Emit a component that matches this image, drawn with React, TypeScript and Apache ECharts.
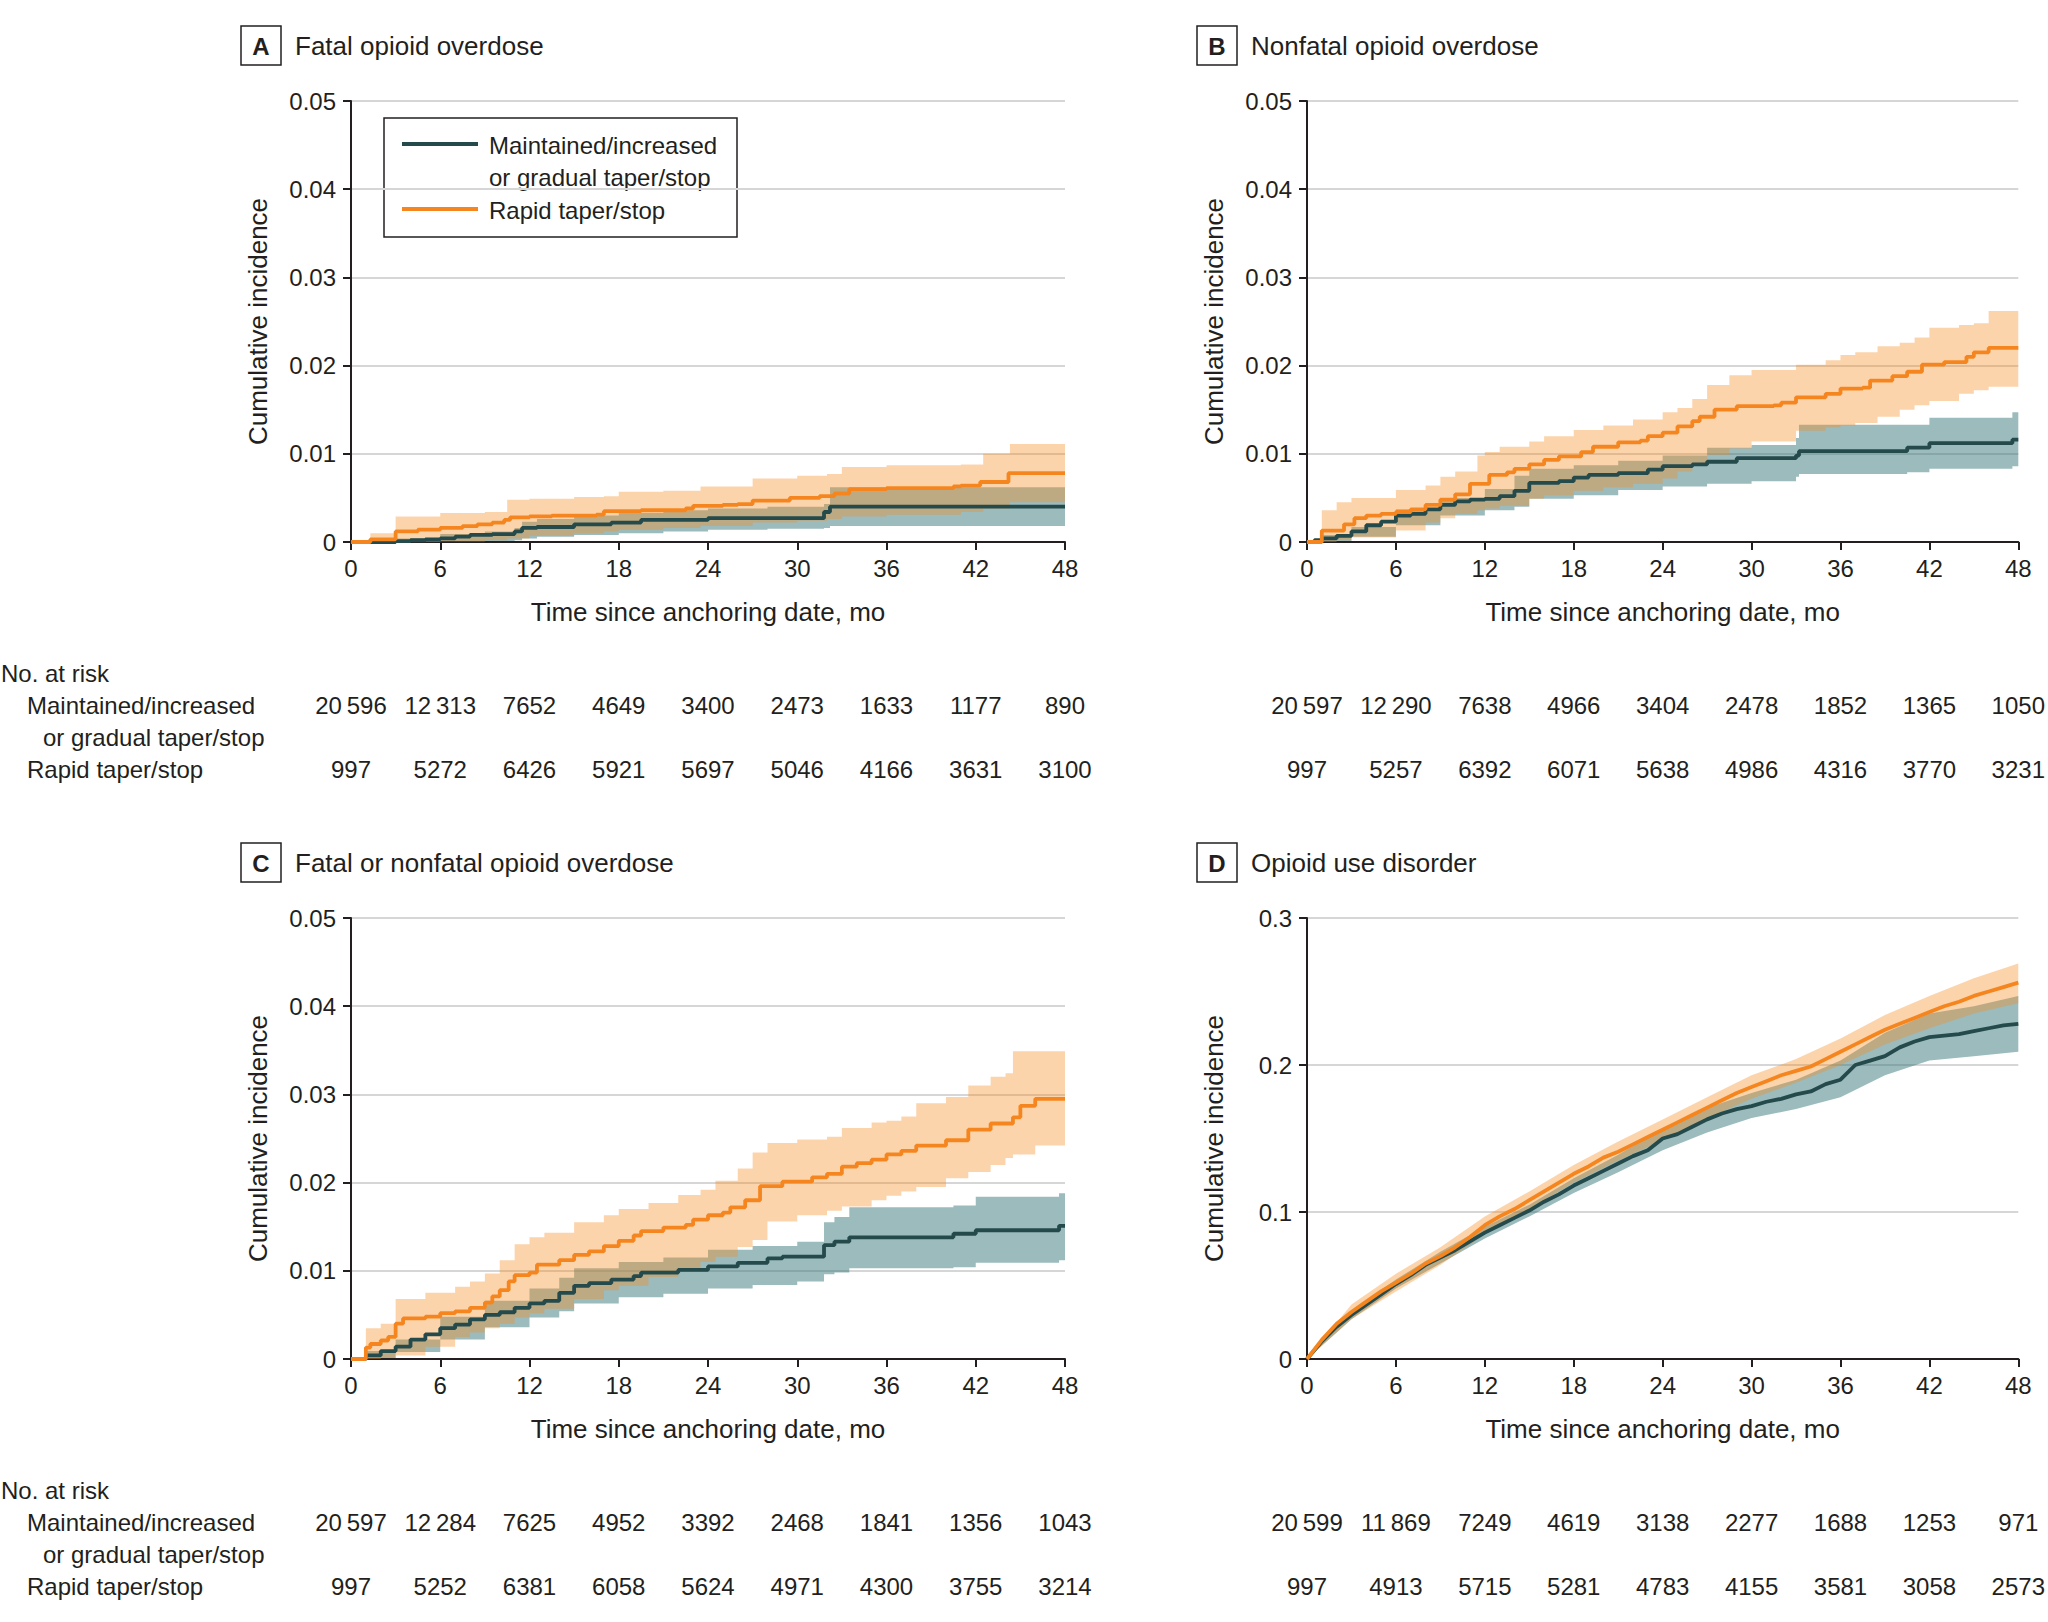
import React, { useEffect, useRef } from "react";
import * as echarts from "echarts";

const FONT = '"Liberation Sans", Arial, sans-serif';
const INK = "#231f20";
const TEAL = "#244a4c";
const ORANGE = "#f5861f";
const TEAL_BAND = "rgba(45,112,116,0.48)";
const ORANGE_BAND = "rgba(248,142,38,0.38)";
const GRID_LINE = "#d6d6d6";
const LINE_W = 3.8;

const riskMonths = [0, 6, 12, 18, 24, 30, 36, 42, 48];
const riskA_maint = [20596, 12313, 7652, 4649, 3400, 2473, 1633, 1177, 890];
const riskA_rapid = [997, 5272, 6426, 5921, 5697, 5046, 4166, 3631, 3100];
const riskB_maint = [20597, 12290, 7638, 4966, 3404, 2478, 1852, 1365, 1050];
const riskB_rapid = [997, 5257, 6392, 6071, 5638, 4986, 4316, 3770, 3231];
const riskC_maint = [20597, 12284, 7625, 4952, 3392, 2468, 1841, 1356, 1043];
const riskC_rapid = [997, 5252, 6381, 6058, 5624, 4971, 4300, 3755, 3214];
const riskD_maint = [20599, 11869, 7249, 4619, 3138, 2277, 1688, 1253, 971];
const riskD_rapid = [997, 4913, 5715, 5281, 4783, 4155, 3581, 3058, 2573];

// Panel A: fatal opioid overdose  [month, cumulative incidence]
const A_maint = [[0,0],[3,0.0001],[4,0.0002],[5,0.0003],[6,0.0004],[7,0.0006],[8,0.0008],[9.5,0.0009],[11,0.0012],[11.5,0.0016],[12.5,0.0017],[15,0.002],[17.5,0.0022],[19.5,0.0025],[24,0.0027],[31.8,0.0034],[32.2,0.004],[48,0.004]];
const A_rapid = [[0,0],[1.3,0.0003],[3,0.0012],[4.5,0.0014],[6,0.0016],[7.5,0.0018],[8.5,0.002],[9.5,0.0022],[10.3,0.0025],[10.7,0.0028],[12,0.0029],[13.5,0.003],[16.5,0.0031],[17,0.0035],[19.5,0.0036],[22.5,0.0038],[23,0.0041],[25,0.0042],[26,0.0043],[27,0.0047],[29.5,0.005],[31.5,0.0052],[32.5,0.0055],[33.5,0.006],[36,0.0061],[40.5,0.0063],[41,0.0064],[42.3,0.0068],[44.2,0.0078],[48,0.0078]];
// [month, lower, upper]
const A_maint_ci = [[0,0,0],[3,0,0.0004],[6,0,0.0009],[9,0.0001,0.0012],[11,0.0002,0.0016],[11.5,0.0004,0.0023],[12.5,0.0006,0.0026],[15,0.0008,0.003],[18,0.001,0.0033],[21,0.0012,0.0036],[24,0.0014,0.0038],[28,0.0015,0.004],[31.8,0.0016,0.0043],[32.2,0.0018,0.0062],[48,0.0018,0.0062]];
const A_rapid_ci = [[0,0,0.0002],[1.3,0,0.001],[3,0,0.0029],[6,0.0001,0.0033],[9,0.0002,0.0034],[10.5,0.0004,0.0048],[12,0.0007,0.0049],[15,0.001,0.0051],[17,0.0012,0.0052],[18,0.0014,0.0057],[21,0.0016,0.0058],[23.5,0.0018,0.0063],[27,0.0022,0.0072],[30,0.0024,0.0075],[32,0.0026,0.0077],[33,0.0029,0.0085],[36,0.0031,0.0087],[41,0.0034,0.0088],[42.5,0.0038,0.01],[44.3,0.0045,0.0111],[48,0.0046,0.0111]];

// Panel B: nonfatal opioid overdose
const B_maint = [[0,0],[0.5,0.0002],[1,0.0004],[2,0.0007],[3,0.0012],[4,0.0019],[5,0.0023],[6,0.003],[7,0.0032],[8,0.0037],[9,0.0042],[10,0.0046],[11,0.0048],[12,0.0049],[13,0.0052],[14,0.0058],[15,0.0067],[17,0.0069],[18,0.0073],[19,0.0076],[21,0.0078],[23,0.0082],[24,0.0086],[26,0.0088],[27,0.0091],[29,0.0095],[33,0.0098],[33.2,0.0103],[40.5,0.0107],[42,0.0112],[47.6,0.0116],[48,0.0116]];
const B_rapid = [[0,0],[1,0.0013],[2.5,0.002],[3.2,0.0027],[4,0.003],[5,0.0032],[6,0.0034],[7,0.0037],[8,0.0042],[9,0.0048],[10,0.0054],[11,0.0066],[12.3,0.0076],[13.5,0.0079],[14,0.0083],[15,0.0088],[16,0.0093],[17,0.0097],[18.5,0.0102],[19.3,0.0108],[21,0.0113],[22.5,0.0115],[23,0.012],[24,0.0124],[25,0.0131],[26,0.0137],[26.5,0.0142],[27.5,0.015],[29,0.0154],[31.5,0.0155],[32,0.0158],[33,0.0164],[35,0.0168],[36,0.0174],[37.5,0.0175],[38,0.0183],[39.5,0.0188],[40.5,0.0193],[41.5,0.0201],[43,0.0204],[44.5,0.021],[45,0.0215],[46,0.022],[48,0.022]];
const B_maint_ci = [[0,0,0],[1,0.0001,0.0008],[3,0.0006,0.0017],[6,0.0019,0.0037],[9,0.003,0.005],[12,0.0036,0.006],[14,0.004,0.0075],[15,0.0049,0.0083],[18,0.0053,0.0087],[21,0.0059,0.0092],[24,0.0063,0.0098],[27,0.0066,0.0107],[30,0.0069,0.011],[33,0.0074,0.0118],[33.2,0.0077,0.0133],[40.5,0.0079,0.0133],[42,0.0083,0.0141],[47.6,0.0086,0.0147],[48,0.0086,0.0147]];
const B_rapid_ci = [[0,0,0],[1,0,0.0036],[2,0.0002,0.0045],[3,0.0005,0.005],[6,0.0013,0.0059],[8,0.0022,0.0064],[9,0.0027,0.0074],[10,0.0032,0.008],[11.5,0.0036,0.0098],[12,0.0038,0.0102],[13,0.0041,0.0108],[15,0.0049,0.0114],[16,0.0053,0.012],[18,0.0058,0.0127],[20,0.0062,0.0132],[22,0.0066,0.0139],[24,0.0072,0.0147],[25,0.008,0.0152],[26,0.0088,0.0162],[27,0.0099,0.0178],[28.5,0.0106,0.0189],[30,0.0114,0.0195],[33,0.0126,0.0201],[35,0.013,0.0206],[36,0.0132,0.0212],[37,0.0135,0.0215],[38.5,0.0142,0.0222],[40,0.015,0.0226],[41,0.0155,0.0232],[42,0.016,0.0243],[44,0.0168,0.0246],[45,0.0172,0.0248],[46,0.0176,0.0262],[48,0.0177,0.0264]];

// Panel C: fatal or nonfatal opioid overdose
const C_maint = [[0,0],[1,0.0004],[2,0.0009],[3,0.0014],[4,0.0022],[5,0.0028],[6,0.0035],[7,0.0039],[8,0.0045],[9,0.005],[10,0.0053],[11,0.0058],[12,0.0063],[13,0.0066],[14,0.0075],[15,0.0083],[16,0.0086],[17.5,0.009],[19,0.0094],[19.5,0.0098],[22,0.0101],[24,0.0105],[26,0.0109],[28,0.0114],[29,0.0116],[31.8,0.0129],[32.5,0.0133],[33.5,0.0138],[40.5,0.0142],[42,0.0146],[47.6,0.0151],[48,0.0151]];
const C_rapid = [[0,0],[1,0.0013],[1.3,0.0017],[2,0.0021],[2.5,0.0025],[3,0.004],[3.5,0.0046],[5,0.0048],[6,0.0052],[7,0.0054],[8,0.0058],[9,0.0064],[9.5,0.0071],[10,0.0078],[10.6,0.0088],[11,0.0095],[12,0.0098],[12.5,0.0107],[14,0.0112],[15,0.0118],[16,0.0122],[17,0.0128],[18,0.0134],[19,0.014],[19.5,0.0145],[21,0.0149],[22.5,0.0152],[23,0.0158],[24,0.0163],[25,0.0166],[25.5,0.0172],[26.5,0.018],[27.5,0.0196],[29,0.0201],[31,0.0206],[32,0.021],[33,0.0218],[34,0.0222],[35,0.0226],[36,0.0232],[37,0.0236],[38,0.0242],[40,0.0248],[41.5,0.026],[43,0.0267],[44.5,0.0274],[45,0.0287],[46,0.0295],[48,0.0295]];
const C_maint_ci = [[0,0,0],[1,0.0001,0.0009],[3,0.0008,0.0022],[6,0.0022,0.0048],[9,0.0036,0.0066],[12,0.0047,0.008],[14,0.0054,0.0092],[15,0.0063,0.0103],[18,0.007,0.011],[21,0.0074,0.0115],[24,0.008,0.0124],[27,0.0084,0.0128],[30,0.0088,0.0133],[31.8,0.0096,0.0155],[32.5,0.0098,0.0161],[33.5,0.0103,0.0172],[40.5,0.0104,0.0174],[42,0.0109,0.0184],[47.6,0.0112,0.0188],[48,0.0112,0.0188]];
const C_rapid_ci = [[0,0,0],[1,0,0.0035],[2,0.0001,0.004],[3,0.0004,0.0068],[5,0.0014,0.0075],[7,0.0025,0.0082],[8,0.003,0.0088],[9,0.0035,0.0097],[10,0.004,0.0112],[11,0.0047,0.013],[12,0.0052,0.0138],[13,0.0057,0.0143],[15,0.0068,0.0155],[17,0.0078,0.0163],[18,0.0083,0.017],[20,0.0093,0.0177],[22,0.0101,0.0186],[23.5,0.011,0.0192],[24.5,0.0116,0.0202],[26,0.0127,0.0216],[27,0.0135,0.0234],[28,0.0156,0.0245],[30,0.0163,0.0249],[32,0.0168,0.0252],[33,0.0173,0.0262],[35,0.018,0.0268],[36,0.0185,0.027],[37,0.019,0.0275],[38,0.0195,0.029],[40,0.0205,0.0297],[41.5,0.0212,0.031],[43,0.022,0.032],[44,0.0228,0.0324],[44.5,0.0232,0.0349],[46,0.0242,0.0349],[48,0.0242,0.0349]];

// Panel D: opioid use disorder (monthly readings)
const D_months = [0,1,2,3,4,5,6,7,8,9,10,11,12,13,14,15,16,17,18,19,20,21,22,23,24,25,26,27,28,29,30,31,32,33,34,35,36,37,38,39,40,41,42,43,44,45,46,47,48];
const D_maint = [0,0.012,0.022,0.03,0.037,0.044,0.051,0.057,0.064,0.069,0.074,0.08,0.086,0.091,0.096,0.101,0.107,0.112,0.118,0.123,0.128,0.133,0.138,0.142,0.15,0.153,0.158,0.163,0.167,0.17,0.172,0.175,0.177,0.18,0.182,0.187,0.19,0.2,0.203,0.206,0.212,0.216,0.219,0.22,0.221,0.223,0.225,0.227,0.228];
const D_rapid = [0,0.013,0.024,0.032,0.039,0.046,0.052,0.058,0.065,0.07,0.076,0.083,0.091,0.097,0.102,0.108,0.114,0.12,0.126,0.131,0.137,0.141,0.146,0.151,0.156,0.161,0.166,0.171,0.176,0.181,0.185,0.189,0.193,0.196,0.199,0.204,0.209,0.214,0.219,0.224,0.228,0.232,0.236,0.24,0.243,0.247,0.25,0.253,0.256];
const D_maint_ci = [[0,0,0],[3,0.027,0.033],[6,0.048,0.054],[9,0.065,0.073],[12,0.082,0.09],[15,0.097,0.105],[18,0.113,0.123],[21,0.127,0.139],[24,0.142,0.157],[27,0.154,0.171],[30,0.164,0.181],[33,0.17,0.19],[36,0.178,0.203],[39,0.193,0.222],[42,0.203,0.235],[45,0.206,0.24],[48,0.209,0.247]];
const D_rapid_ci = [[0,0,0],[3,0.027,0.037],[6,0.046,0.058],[9,0.064,0.076],[12,0.085,0.097],[15,0.102,0.114],[18,0.12,0.132],[21,0.135,0.148],[24,0.149,0.163],[27,0.164,0.178],[30,0.177,0.193],[33,0.188,0.204],[36,0.2,0.218],[39,0.214,0.234],[42,0.225,0.247],[45,0.235,0.259],[48,0.242,0.269]];

const LEGEND_MAINT = ["Maintained/increased", "or gradual taper/stop"];
const LEGEND_RAPID = "Rapid taper/stop";

type Panel = {
  letter: string;
  title: string;
  left: number;
  top: number;
  width: number;
  height: number;
  yMax: number;
  yInt: number;
  dec: number;
  maint: number[][];
  rapid: number[][];
  maintCi: number[][];
  rapidCi: number[][];
  step: boolean;
  riskMaint: number[];
  riskRapid: number[];
  rowOffset: number;
};

const TOP_ROW = 0;
const BOTTOM_ROW = 817;

const panels: Panel[] = [
  { letter: "A", title: "Fatal opioid overdose", left: 351, top: 101, width: 714, height: 441, yMax: 0.05, yInt: 0.01, dec: 2, maint: A_maint, rapid: A_rapid, maintCi: A_maint_ci, rapidCi: A_rapid_ci, step: true, riskMaint: riskA_maint, riskRapid: riskA_rapid, rowOffset: TOP_ROW },
  { letter: "B", title: "Nonfatal opioid overdose", left: 1307, top: 101, width: 712, height: 441, yMax: 0.05, yInt: 0.01, dec: 2, maint: B_maint, rapid: B_rapid, maintCi: B_maint_ci, rapidCi: B_rapid_ci, step: true, riskMaint: riskB_maint, riskRapid: riskB_rapid, rowOffset: TOP_ROW },
  { letter: "C", title: "Fatal or nonfatal opioid overdose", left: 351, top: 101 + BOTTOM_ROW, width: 714, height: 441, yMax: 0.05, yInt: 0.01, dec: 2, maint: C_maint, rapid: C_rapid, maintCi: C_maint_ci, rapidCi: C_rapid_ci, step: true, riskMaint: riskC_maint, riskRapid: riskC_rapid, rowOffset: BOTTOM_ROW },
  { letter: "D", title: "Opioid use disorder", left: 1307, top: 101 + BOTTOM_ROW, width: 712, height: 441, yMax: 0.3, yInt: 0.1, dec: 1, maint: D_months.map((t, i) => [t, D_maint[i]]), rapid: D_months.map((t, i) => [t, D_rapid[i]]), maintCi: D_maint_ci, rapidCi: D_rapid_ci, step: false, riskMaint: riskD_maint, riskRapid: riskD_rapid, rowOffset: BOTTOM_ROW },
];

const fmtRisk = (n: number) =>
  n >= 10000 ? `${Math.floor(n / 1000)}\u2009${String(n % 1000).padStart(3, "0")}` : String(n);

function bandRenderer(band: number[][], step: boolean, color: string) {
  return (params: any, api: any) => {
    if (params.dataIndex !== 0) return null;
    const up: number[][] = [];
    const lo: number[][] = [];
    for (let i = 0; i < band.length; i++) {
      const [t, l, h] = band[i];
      if (step && i > 0) {
        up.push(api.coord([t, band[i - 1][2]]));
        lo.push(api.coord([t, band[i - 1][1]]));
      }
      up.push(api.coord([t, h]));
      lo.push(api.coord([t, l]));
    }
    const points = up.concat(lo.reverse());
    return {
      type: "polygon",
      shape: { points },
      style: { fill: color, stroke: null },
      silent: true,
    };
  };
}

function buildOption() {
  const grids: any[] = [];
  const xAxes: any[] = [];
  const yAxes: any[] = [];
  const series: any[] = [];
  const graphics: any[] = [];

  panels.forEach((p, idx) => {
    const bottom = p.top + p.height;
    grids.push({ left: p.left, top: p.top, width: p.width, height: p.height, containLabel: false });

    xAxes.push({
      type: "value",
      gridIndex: idx,
      min: 0,
      max: 48,
      interval: 6,
      axisLine: { show: true, onZero: false, lineStyle: { color: INK, width: 2 } },
      axisTick: { show: true, length: 8, lineStyle: { color: INK, width: 2 } },
      axisLabel: { fontSize: 24, color: INK, fontFamily: FONT, margin: 14 },
      splitLine: { show: false },
      name: "Time since anchoring date, mo",
      nameLocation: "middle",
      nameGap: 57,
      nameTextStyle: { fontSize: 26, color: INK, fontFamily: FONT },
    });
    const rows = [
      { data: p.riskMaint, y: 705 + p.rowOffset },
      { data: p.riskRapid, y: 769 + p.rowOffset },
    ];
    rows.forEach((r) => {
      xAxes.push({
        type: "value",
        gridIndex: idx,
        min: 0,
        max: 48,
        interval: 6,
        position: "bottom",
        offset: r.y - bottom,
        axisLine: { show: false },
        axisTick: { show: false },
        splitLine: { show: false },
        axisLabel: {
          margin: 0,
          verticalAlign: "middle",
          fontSize: 24,
          color: INK,
          fontFamily: FONT,
          showMinLabel: true,
          showMaxLabel: true,
          formatter: (v: number) => {
            const k = riskMonths.indexOf(Math.round(v));
            return k >= 0 ? fmtRisk(r.data[k]) : "";
          },
        },
      });
    });

    yAxes.push({
      type: "value",
      gridIndex: idx,
      min: 0,
      max: p.yMax,
      interval: p.yInt,
      axisLine: { show: true, lineStyle: { color: INK, width: 2 } },
      axisTick: { show: true, length: 8, lineStyle: { color: INK, width: 2 } },
      axisLabel: {
        fontSize: 24,
        color: INK,
        fontFamily: FONT,
        margin: 15,
        formatter: (v: number) => (Math.abs(v) < 1e-9 ? "0" : v.toFixed(p.dec)),
      },
      splitLine: { show: true, lineStyle: { color: GRID_LINE, width: 2 } },
      name: "Cumulative incidence",
      nameLocation: "middle",
      nameGap: 80,
      nameTextStyle: { fontSize: 26, color: INK, fontFamily: FONT },
    });

    const xi = idx * 3;
    series.push({
      type: "custom",
      xAxisIndex: xi,
      yAxisIndex: idx,
      data: p.maintCi,
      encode: { x: 0, y: [1, 2] },
      renderItem: bandRenderer(p.maintCi, p.step, TEAL_BAND),
      clip: true,
      silent: true,
      z: 1,
    });
    series.push({
      type: "custom",
      xAxisIndex: xi,
      yAxisIndex: idx,
      data: p.rapidCi,
      encode: { x: 0, y: [1, 2] },
      renderItem: bandRenderer(p.rapidCi, p.step, ORANGE_BAND),
      clip: true,
      silent: true,
      z: 1,
    });
    series.push({
      type: "line",
      name: "Maintained/increased or gradual taper/stop",
      xAxisIndex: xi,
      yAxisIndex: idx,
      data: p.maint,
      step: p.step ? "end" : false,
      showSymbol: false,
      symbol: "none",
      lineStyle: { color: TEAL, width: LINE_W },
      z: 3,
      clip: true,
    });
    series.push({
      type: "line",
      name: "Rapid taper/stop",
      xAxisIndex: xi,
      yAxisIndex: idx,
      data: p.rapid,
      step: p.step ? "end" : false,
      showSymbol: false,
      symbol: "none",
      lineStyle: { color: ORANGE, width: LINE_W },
      z: 4,
      clip: true,
    });

    const boxX = p.left - 110;
    const boxY = 26 + p.rowOffset;
    graphics.push({
      type: "rect",
      shape: { x: boxX, y: boxY, width: 40, height: 39 },
      style: { fill: "#fff", stroke: INK, lineWidth: 1.5 },
    });
    graphics.push({
      type: "text",
      x: boxX + 20,
      y: boxY + 20,
      style: { text: p.letter, fontSize: 24, fontWeight: "bold", fontFamily: FONT, fill: INK, align: "center", verticalAlign: "middle" },
    });
    graphics.push({
      type: "text",
      x: boxX + 54,
      y: boxY + 20,
      style: { text: p.title, fontSize: 26, fontFamily: FONT, fill: INK, align: "left", verticalAlign: "middle" },
    });

    if (p.left < 1000) {
      const lab = (text: string, x: number, y: number) =>
        graphics.push({
          type: "text",
          x,
          y: y + p.rowOffset,
          style: { text, fontSize: 24, fontFamily: FONT, fill: INK, align: "left", verticalAlign: "middle" },
        });
      lab("No. at risk", 1, 673);
      lab(LEGEND_MAINT[0], 27, 705);
      lab(LEGEND_MAINT[1], 43, 737);
      lab(LEGEND_RAPID, 27, 769);
    }
  });

  graphics.push({
    type: "group",
    z: 100,
    children: [
      { type: "rect", shape: { x: 384, y: 118, width: 353, height: 119 }, style: { fill: "#fff", stroke: INK, lineWidth: 1.5 } },
      { type: "line", shape: { x1: 402, y1: 144, x2: 478, y2: 144 }, style: { stroke: TEAL, lineWidth: LINE_W } },
      { type: "line", shape: { x1: 402, y1: 209, x2: 478, y2: 209 }, style: { stroke: ORANGE, lineWidth: LINE_W } },
      { type: "text", x: 489, y: 145, style: { text: LEGEND_MAINT[0], fontSize: 24, fontFamily: FONT, fill: INK, verticalAlign: "middle" } },
      { type: "text", x: 489, y: 177, style: { text: LEGEND_MAINT[1], fontSize: 24, fontFamily: FONT, fill: INK, verticalAlign: "middle" } },
      { type: "text", x: 489, y: 210, style: { text: LEGEND_RAPID, fontSize: 24, fontFamily: FONT, fill: INK, verticalAlign: "middle" } },
    ],
  });

  return {
    animation: false,
    backgroundColor: "#ffffff",
    textStyle: { fontFamily: FONT, color: INK },
    grid: grids,
    xAxis: xAxes,
    yAxis: yAxes,
    series,
    graphic: graphics,
  };
}

export default function App() {
  const ref = useRef<HTMLDivElement>(null);
  useEffect(() => {
    document.body.style.margin = "0";
    const chart = echarts.init(ref.current!, undefined, { renderer: "svg", width: 2048, height: 1622 });
    chart.setOption(buildOption() as any);
    return () => chart.dispose();
  }, []);
  return (
    <div
      ref={ref}
      style={{ position: "absolute", left: 0, top: 0, width: 2048, height: 1622, background: "#fff" }}
    />
  );
}
